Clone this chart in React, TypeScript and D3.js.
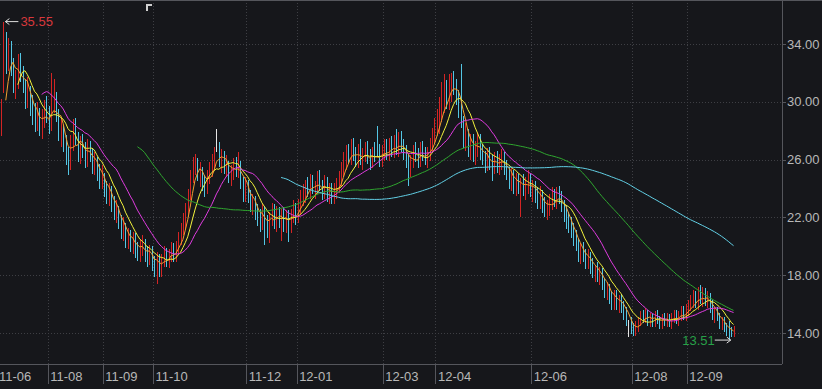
import React from 'react';
import * as d3 from 'd3';

const closes = [
  27.0, 27.5, 29.5, 33.5, 33.0, 33.5, 32.5, 31.2, 31.5, 32.6,
  32.0, 31.3, 30.4, 30.9, 29.6, 29.2, 28.6, 29.3, 28.2, 28.9,
  29.4, 29.0, 28.4, 29.8, 30.3, 29.1, 28.0, 28.0, 27.0, 26.2,
  25.6, 27.2, 28.2, 27.6, 26.4, 27.0, 26.7, 26.1, 26.8, 26.3,
  25.6, 25.9, 25.0, 24.6, 24.9, 23.9, 23.5, 23.8, 22.9, 22.4,
  22.6, 21.7, 21.0, 21.4, 20.4, 20.6, 20.1, 20.5, 19.8, 19.5,
  19.9, 20.3, 19.4, 19.2, 19.6, 18.9, 18.5, 19.1, 18.4, 19.0,
  19.5, 19.0, 19.4, 19.8, 19.3, 19.9, 20.6, 21.0, 21.6, 22.5,
  23.5, 24.9, 25.8, 26.0, 24.9, 25.2, 24.3, 24.0, 24.8, 25.3,
  25.8, 26.3, 27.0, 25.7, 26.2, 25.5, 25.8, 24.9, 25.1, 25.6,
  25.2, 26.0, 24.3, 23.6, 24.3, 23.5, 22.9, 23.1, 22.4, 22.0,
  21.6, 22.4, 21.8, 21.2, 21.9, 22.5, 21.7, 22.3, 21.8, 22.2,
  21.6, 22.0, 21.5, 22.1, 22.6, 22.0, 22.8, 23.3, 23.6, 24.1,
  23.9, 24.5, 24.0, 24.0, 24.6, 24.1, 23.7, 24.4, 23.5, 23.9,
  23.4, 23.8, 24.2, 24.6, 25.3, 25.9, 26.4, 26.1, 26.8, 26.3,
  26.0, 26.5, 25.9, 26.2, 26.7, 26.0, 25.8, 26.4, 26.1, 26.6,
  25.9, 26.5, 26.8, 26.4, 26.9, 26.6, 27.1, 26.7, 27.3, 26.9,
  26.6, 26.0, 25.4, 25.8, 26.5, 26.2, 25.9, 26.7, 26.3, 26.1,
  26.4, 27.0, 27.5, 28.3, 28.6, 29.2, 29.9, 30.6, 30.1, 31.0,
  31.6, 31.2, 30.5, 29.6, 28.4, 27.6, 27.9, 26.7, 27.2, 26.5,
  26.8, 27.4, 26.5, 26.1, 25.7, 26.3, 25.8, 25.5, 26.0, 25.6,
  25.9, 26.2, 25.4, 25.1, 24.6, 24.9, 24.3, 24.6, 24.1, 24.4,
  24.0, 24.3, 24.5, 23.9, 24.1, 23.6, 23.2, 23.5, 22.8, 22.5,
  22.7, 23.0, 23.4, 23.1, 23.6, 23.3, 22.9, 22.2, 21.8, 21.5,
  21.2, 20.6, 20.3, 19.5, 19.7, 19.4, 19.0, 19.3, 18.7, 18.4,
  18.3, 18.0, 18.2, 17.5, 17.0, 17.1, 16.5, 16.2, 16.6, 16.0,
  16.3, 15.9, 15.4, 15.0, 14.6, 14.2, 14.0, 14.5, 14.8, 15.2,
  15.0, 15.4, 14.8, 15.1, 14.7, 15.2, 14.9, 14.6, 15.0, 14.8,
  15.1, 14.7, 15.0, 15.3, 14.9, 15.2, 15.5, 15.1, 15.6, 15.9,
  16.1, 16.4, 16.0, 16.7, 16.3, 16.6, 16.2, 16.4, 15.8, 15.2,
  15.5, 15.0, 14.6, 14.9, 14.3, 14.0, 14.2, 13.9, 14.3,
];

const opens = [
  26.0, 26.8, 28.0, 31.0, 34.0, 32.8, 33.6, 32.4, 30.8, 31.4,
  32.8, 31.9, 31.2, 30.1, 30.8, 29.8, 29.4, 28.5, 29.1, 28.0,
  28.7, 29.6, 29.1, 28.3, 29.6, 30.1, 29.0, 27.6, 27.9, 27.1,
  26.3, 25.8, 27.0, 28.3, 27.5, 26.2, 27.2, 26.8, 25.9, 26.9,
  26.4, 25.3, 25.9, 25.2, 24.4, 24.8, 24.1, 23.2, 23.9, 23.0,
  22.1, 22.5, 21.9, 20.8, 21.3, 20.2, 20.8, 19.9, 20.6, 20.0,
  19.3, 19.7, 20.2, 19.7, 19.0, 19.8, 19.0, 18.3, 19.2, 18.2,
  18.9, 19.6, 18.8, 19.2, 19.9, 19.2, 19.8, 20.4, 21.2, 21.5,
  22.4, 23.6, 24.8, 25.4, 25.8, 24.6, 25.1, 24.5, 23.9, 24.7,
  25.1, 25.6, 27.0, 27.1, 25.5, 26.3, 25.2, 25.6, 24.6, 25.0,
  25.7, 25.0, 25.6, 24.4, 23.5, 24.2, 23.6, 22.6, 23.2, 22.6,
  22.3, 21.5, 22.5, 21.9, 21.0, 21.7, 22.6, 21.5, 22.4, 21.6,
  22.3, 21.4, 22.2, 21.3, 21.9, 22.7, 21.9, 22.6, 23.1, 23.4,
  24.3, 23.7, 24.6, 23.8, 23.9, 24.8, 24.2, 23.6, 24.5, 23.2,
  24.1, 23.2, 23.6, 24.0, 24.5, 25.1, 25.6, 26.7, 25.9, 27.0,
  26.5, 25.7, 26.6, 25.6, 26.0, 26.9, 26.3, 25.6, 26.8, 27.3,
  26.8, 25.8, 26.2, 27.0, 26.1, 27.2, 26.4, 27.4, 26.5, 27.6,
  27.0, 26.7, 26.1, 25.1, 25.7, 26.8, 26.4, 25.8, 26.9, 26.5,
  25.8, 26.2, 26.8, 27.4, 28.0, 28.1, 29.0, 29.7, 30.9, 29.8,
  30.5, 31.5, 31.0, 30.2, 30.8, 28.6, 27.0, 27.8, 26.4, 27.5,
  26.0, 26.6, 27.6, 26.8, 26.4, 25.5, 26.6, 26.0, 25.3, 26.3,
  25.2, 25.6, 26.3, 25.8, 25.3, 24.2, 25.1, 23.9, 24.8, 23.2,
  24.6, 23.6, 24.0, 24.7, 23.5, 24.3, 23.9, 22.9, 23.6, 23.1,
  22.1, 22.5, 22.8, 23.6, 22.9, 23.9, 23.5, 23.0, 22.6, 22.1,
  21.7, 21.4, 20.8, 20.4, 19.1, 20.1, 19.6, 18.7, 19.4, 19.0,
  17.8, 18.6, 17.6, 18.3, 17.6, 16.6, 17.3, 16.7, 15.9, 16.8,
  15.8, 16.5, 16.0, 15.6, 14.6, 14.9, 14.5, 14.0, 14.3, 14.7,
  15.4, 14.9, 15.5, 14.6, 15.2, 14.6, 15.4, 15.0, 14.5, 15.3,
  14.6, 15.2, 14.5, 14.9, 15.4, 14.7, 15.0, 15.7, 15.0, 15.4,
  15.7, 15.9, 16.6, 15.8, 16.9, 16.0, 16.8, 15.9, 16.6, 16.1,
  14.9, 15.6, 15.3, 14.4, 15.0, 14.6, 14.6, 14.3, 13.8,
];

const highs = [
  27.6, 28.3, 30.2, 35.55, 34.8, 34.4, 34.2, 33.0, 32.2, 33.3,
  33.4, 32.5, 31.6, 31.7, 31.1, 30.5, 29.9, 30.0, 29.6, 29.5,
  30.1, 30.4, 29.7, 32.0, 31.6, 30.7, 29.5, 28.9, 28.4, 27.7,
  26.9, 27.7, 28.8, 28.9, 27.9, 27.6, 27.8, 27.2, 27.4, 27.3,
  26.8, 26.5, 26.2, 25.7, 25.6, 25.1, 24.5, 24.4, 24.2, 23.5,
  23.2, 22.8, 22.2, 22.0, 21.6, 21.3, 21.1, 21.0, 20.9, 20.3,
  20.5, 20.8, 20.5, 20.0, 20.1, 20.0, 19.3, 19.6, 19.5, 19.5,
  20.0, 19.9, 19.8, 20.3, 20.2, 20.4, 21.0, 21.6, 22.3, 23.0,
  24.0, 25.3, 26.2, 26.4, 26.1, 25.8, 25.5, 24.9, 25.3, 25.8,
  26.4, 26.9, 28.1, 27.2, 26.7, 26.6, 26.3, 25.9, 25.6, 26.1,
  26.2, 26.5, 25.9, 24.8, 24.8, 24.6, 23.9, 23.6, 23.5, 22.9,
  22.6, 22.9, 22.8, 22.2, 22.4, 23.0, 22.9, 22.8, 22.7, 22.6,
  22.7, 22.5, 22.5, 22.6, 23.2, 23.0, 23.3, 23.9, 24.3, 24.6,
  24.8, 25.0, 24.9, 24.5, 25.2, 25.3, 24.6, 24.9, 24.8, 24.4,
  24.4, 24.4, 24.7, 25.2, 25.8, 26.5, 27.0, 27.1, 27.4, 27.5,
  26.9, 27.1, 27.4, 26.8, 27.2, 27.3, 26.7, 26.9, 27.2, 28.3,
  27.1, 27.0, 27.4, 27.4, 27.5, 27.6, 27.7, 28.1, 27.9, 28.0,
  27.4, 27.0, 26.4, 26.3, 27.0, 27.2, 26.8, 27.2, 27.3, 26.9,
  26.9, 27.5, 28.2, 28.9, 29.5, 30.3, 31.4, 31.9, 31.5, 31.9,
  32.0, 32.1, 31.6, 30.8, 32.6, 29.0, 28.5, 28.1, 27.8, 27.8,
  27.3, 27.9, 27.8, 27.1, 26.6, 26.8, 26.9, 26.3, 26.5, 26.6,
  26.4, 26.7, 26.5, 26.0, 25.5, 25.4, 25.3, 25.1, 25.0, 24.7,
  25.0, 24.8, 25.3, 25.0, 24.6, 24.5, 24.1, 24.2, 23.9, 23.4,
  23.2, 23.6, 24.1, 24.0, 24.1, 24.2, 23.8, 23.2, 22.8, 22.4,
  22.0, 21.6, 21.1, 20.6, 20.2, 20.3, 19.8, 19.8, 19.6, 19.2,
  18.7, 18.9, 18.6, 18.5, 17.8, 17.5, 17.4, 16.9, 17.0, 17.0,
  16.6, 16.7, 16.2, 15.8, 14.9, 15.1, 14.7, 14.8, 15.1, 15.5,
  15.6, 15.7, 15.6, 15.4, 15.3, 15.5, 15.6, 15.2, 15.3, 15.4,
  15.4, 15.3, 15.4, 15.6, 15.6, 15.5, 15.9, 15.9, 16.0, 16.3,
  16.6, 17.0, 16.9, 17.2, 17.3, 17.2, 17.1, 16.9, 16.8, 16.3,
  15.8, 15.8, 15.4, 15.1, 15.1, 14.7, 14.8, 14.4, 14.5,
];

const lows = [
  25.7, 26.4, 27.6, 30.6, 31.9, 32.1, 31.8, 30.6, 30.2, 30.9,
  31.4, 30.6, 29.5, 29.6, 29.0, 28.4, 27.9, 28.0, 27.6, 27.4,
  28.2, 28.5, 27.8, 28.0, 29.2, 28.6, 27.3, 26.9, 26.5, 25.6,
  24.9, 25.3, 26.6, 27.0, 25.8, 25.7, 26.1, 25.4, 25.5, 25.8,
  25.0, 24.9, 24.5, 24.0, 24.0, 23.4, 22.9, 22.8, 22.4, 21.8,
  21.6, 21.2, 20.5, 20.4, 19.9, 19.8, 19.6, 19.5, 19.2, 19.0,
  18.9, 19.3, 18.9, 18.6, 18.7, 18.3, 17.9, 17.4, 17.9, 17.9,
  18.6, 18.6, 18.5, 18.9, 18.9, 18.9, 19.5, 20.1, 20.8, 21.2,
  22.0, 23.2, 24.4, 24.9, 24.5, 24.1, 23.8, 23.4, 23.6, 24.3,
  24.8, 25.3, 26.5, 25.5, 25.1, 25.0, 24.8, 24.4, 24.2, 24.6,
  24.8, 24.7, 24.0, 23.1, 23.1, 23.0, 22.4, 22.2, 21.8, 21.4,
  21.0, 21.1, 20.1, 20.6, 20.2, 21.4, 21.2, 21.0, 21.3, 20.4,
  21.0, 20.9, 20.3, 20.9, 21.6, 21.5, 21.6, 22.2, 22.8, 23.0,
  23.4, 23.3, 23.6, 23.3, 23.6, 23.8, 23.2, 23.3, 23.1, 22.9,
  22.9, 22.9, 23.3, 23.7, 24.2, 24.8, 25.3, 25.7, 25.6, 25.9,
  25.5, 25.4, 25.6, 25.3, 25.8, 25.7, 25.3, 25.4, 25.8, 26.2,
  25.5, 25.5, 25.9, 26.0, 25.9, 26.2, 26.1, 26.3, 26.2, 26.5,
  26.0, 25.4, 24.2, 24.8, 25.4, 25.8, 25.4, 25.5, 25.9, 25.6,
  25.4, 25.9, 26.5, 27.1, 27.6, 27.8, 28.6, 29.2, 29.5, 29.4,
  30.0, 30.5, 29.8, 28.9, 28.2, 26.8, 26.6, 26.2, 26.0, 25.8,
  25.6, 26.2, 26.0, 25.6, 25.1, 25.2, 25.3, 24.5, 25.0, 25.1,
  24.9, 25.3, 24.9, 24.6, 24.0, 23.8, 23.6, 23.5, 23.6, 22.0,
  23.5, 23.2, 23.6, 23.4, 23.1, 23.0, 22.6, 22.6, 22.3, 22.0,
  21.8, 22.1, 22.5, 22.7, 22.6, 22.9, 22.4, 21.7, 21.2, 20.9,
  20.6, 20.0, 19.7, 18.9, 18.8, 18.9, 18.4, 18.4, 18.1, 17.8,
  17.5, 17.5, 17.3, 17.0, 16.4, 16.3, 16.0, 15.6, 15.6, 15.6,
  15.4, 15.4, 14.9, 14.5, 13.7, 13.9, 13.8, 13.8, 14.1, 14.5,
  14.7, 14.7, 14.5, 14.4, 14.4, 14.4, 14.6, 14.3, 14.3, 14.5,
  14.4, 14.4, 14.3, 14.7, 14.6, 14.5, 14.8, 14.9, 14.8, 15.2,
  15.5, 15.7, 15.7, 15.6, 16.0, 15.8, 15.9, 15.7, 15.4, 14.9,
  14.7, 14.8, 14.3, 14.2, 14.1, 13.8, 13.51, 13.7, 13.7,
];

const monthTickIndex = [0, 22, 45, 66, 105, 126, 162, 184, 224, 266, 289];
const monthTickLabels = ['11-06', '11-08', '11-09', '11-10', '11-12', '12-01', '12-03', '12-04', '12-06', '12-08', '12-09'];
const priceTicks = [14, 18, 22, 26, 30, 34];
const maPeriods = [5, 10, 20, 60, 120];
const maColors = ['#f0a030', '#f2f23c', '#e03ce0', '#2fa62f', '#62d0e6'];

const BG = '#16171b';
const UP = '#d42424';
const DOWN = '#54c6e4';
const FLAT = '#e6e6e6';
const GRID = '#3e3f44';
const AXIS = '#55565c';
const TEXT = '#b8b8b8';

export default function App() {
  const W = 822;
  const H = 389;
  const plotR = 782;
  const plotB = 364;
  const n = closes.length;
  const step = 2.394;
  const x = d3.scaleLinear().domain([0, n - 1]).range([-3.8, -3.8 + (n - 1) * step]);
  const y = d3.scaleLinear().domain([14, 34]).range([333, 44]);

  const mas = maPeriods.map((p) =>
    closes.map((_, i) => (i < p - 1 ? null : (d3.mean(closes.slice(i - p + 1, i + 1)) as number)))
  );
  const line = d3
    .line<number | null>()
    .defined((d) => d != null)
    .x((_, i) => x(i))
    .y((d) => y(d as number));

  const hiIdx = d3.maxIndex(highs);
  const loIdx = d3.minIndex(lows);
  const hiX = x(hiIdx);
  const hiY = y(highs[hiIdx]);
  const loX = x(loIdx);
  const loY = y(lows[loIdx]);
  const font = '"Liberation Sans", Arial, sans-serif';

  return (
    <div style={{ position: 'fixed', left: 0, top: 0, width: W, height: H, background: BG }}>
      <svg width={W} height={H} style={{ display: 'block' }}>
        <defs>
          <clipPath id="plot">
            <rect x={0} y={0} width={plotR} height={plotB} />
          </clipPath>
        </defs>
        <rect x={0} y={0} width={W} height={H} fill={BG} />
        {priceTicks.map((t) => (
          <line key={'hg' + t} x1={0} x2={plotR} y1={Math.round(y(t)) + 0.5} y2={Math.round(y(t)) + 0.5}
            stroke={GRID} strokeDasharray="1,2" />
        ))}
        {monthTickIndex.map((ti, k) => {
          const gx = Math.round(x(ti) - step / 2) + 0.5;
          return (
            <g key={'vg' + k}>
              <line x1={gx} x2={gx} y1={0} y2={plotB} stroke={GRID} strokeDasharray="1,2" />
              <line x1={gx} x2={gx} y1={plotB} y2={384} stroke={AXIS} />
            </g>
          );
        })}
        <g clipPath="url(#plot)" shapeRendering="crispEdges">
          {closes.map((c, i) => {
            const o = opens[i];
            const col = c > o ? UP : c < o ? DOWN : FLAT;
            const px = Math.round(x(i));
            const top = y(Math.max(o, c));
            const bot = y(Math.min(o, c));
            const bw = c > o ? 2 : 1;
            return (
              <g key={'c' + i}>
                <rect x={px} y={y(highs[i])} width={1} height={y(lows[i]) - y(highs[i])} fill={col} />
                <rect x={px - (bw === 2 ? 0.5 : 0)} y={top} width={bw === 2 ? 1.5 : 1} height={Math.max(1, bot - top)} fill={col} />
              </g>
            );
          })}
        </g>
        <g clipPath="url(#plot)">
          {mas.map((m, k) => (
            <path key={'ma' + k} d={line(m) || ''} fill="none" stroke={maColors[k]} strokeWidth={1} />
          ))}
        </g>
        <line x1={0} x2={W} y1={0.5} y2={0.5} stroke={AXIS} />
        <line x1={plotR + 0.5} x2={plotR + 0.5} y1={0} y2={plotB} stroke={AXIS} />
        <line x1={0} x2={plotR} y1={plotB + 0.5} y2={plotB + 0.5} stroke={AXIS} />
        {priceTicks.map((t) => (
          <g key={'yt' + t}>
            <line x1={plotR} x2={plotR + 4} y1={Math.round(y(t)) + 0.5} y2={Math.round(y(t)) + 0.5} stroke={AXIS} />
            <text x={plotR + 5} y={y(t)} dy="0.35em" fill={TEXT} fontSize={13} fontFamily={font}>
              {t.toFixed(2)}
            </text>
          </g>
        ))}
        {monthTickIndex.map((ti, k) => (
          <text key={'xt' + k} x={Math.max(x(ti) - step / 2 + 2.5, -1)} y={381} fill={TEXT} fontSize={13} fontFamily={font}>
            {monthTickLabels[k]}
          </text>
        ))}
        <g>
          <line x1={hiX + 2} x2={hiX + 15} y1={hiY} y2={hiY} stroke="#dddddd" />
          <path d={`M${hiX + 2},${hiY} l4,-3 M${hiX + 2},${hiY} l4,3`} stroke="#dddddd" fill="none" />
          <text x={hiX + 17} y={hiY} dy="0.35em" fill="#d8383c" fontSize={13} fontFamily={font}>
            {highs[hiIdx].toFixed(2)}
          </text>
          <line x1={loX - 14} x2={loX + 2} y1={loY} y2={loY} stroke="#dddddd" />
          <path d={`M${loX + 2},${loY} l-4,-3 M${loX + 2},${loY} l-4,3`} stroke="#dddddd" fill="none" />
          <text x={loX - 14} y={loY} dy="0.35em" textAnchor="end" fill="#27a048" fontSize={13} fontFamily={font}>
            {lows[loIdx].toFixed(2)}
          </text>
        </g>
        <path d="M147,11 V5 H152" stroke="#cfcfcf" strokeWidth={2} fill="none" />
      </svg>
    </div>
  );
}
